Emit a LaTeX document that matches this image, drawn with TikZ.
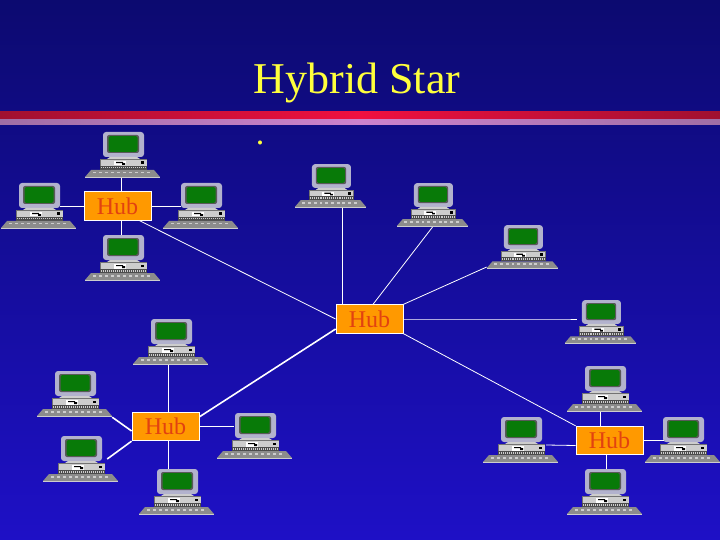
\documentclass[tikz,border=0pt]{standalone}
\usepackage{fontspec}
\setmainfont{Liberation Serif}
\definecolor{topblue}{RGB}{12,10,112}
\definecolor{botblue}{RGB}{30,16,198}
\definecolor{hubfill}{RGB}{255,153,0}
\definecolor{hubtext}{RGB}{226,66,16}
\definecolor{titleyellow}{RGB}{255,255,60}
\definecolor{monitorgray}{RGB}{178,178,205}
\definecolor{screengreen}{RGB}{8,122,8}
\definecolor{basegray}{RGB}{205,205,205}
\definecolor{barred}{RGB}{240,16,64}
\definecolor{baredge}{RGB}{160,16,48}
\definecolor{barpink}{RGB}{205,130,205}
\definecolor{barpinkedge}{RGB}{160,110,165}
\tikzset{
  computer/.pic={
    \begin{scope}[shift={(-37.5,-23)}]
    \fill[monitorgray,rounded corners=3pt] (18,0) rectangle (59,25);
    \fill[black!65,rounded corners=2pt] (22,3) rectangle (54,21);
    \fill[screengreen,rounded corners=1.5pt] (23.5,4.2) rectangle (52.5,19.8);
    \fill[basegray] (25,25) -- (52,25) -- (55,27) -- (22,27) -- cycle;
    \fill[black!55] (15,27) rectangle (62,38);
    \fill[basegray] (15.5,28) rectangle (61.5,34);
    \fill[black!70] (15,34) rectangle (62,38);
    \foreach \i in {16,18,...,60} \fill[basegray] (\i,35) rectangle (\i+1,36.5);
    \fill[white] (29,29) rectangle (41,33.5);
    \fill[black] (31,30) rectangle (38,31.2) (37,31.2) rectangle (40,33);
    \fill[black] (56,29.5) rectangle (59,32);
    \fill[black!45] (6,38) -- (69,38) -- (75,45) -- (0,45) -- cycle;
    \fill[basegray] (0,45) rectangle (75,46);
    \foreach \i in {8,14,...,62} \fill[basegray] (\i,40) rectangle (\i+3,41.5);
    \end{scope}
  },
  pc/.style={rectangle,inner sep=0pt,minimum width=#1*75pt,minimum height=#1*46pt},
  pc/.default=1,
  hub/.style={rectangle,draw=white,line width=.8pt,fill=hubfill,text=hubtext,inner sep=0pt,
    minimum width=67pt,minimum height=28.5pt,font=\fontsize{24}{24}\selectfont},
  link/.style={draw=white,line width=.8pt},
  thicklink/.style={draw=white,line width=1.6pt}
}
\begin{document}
\begin{tikzpicture}[x=1pt,y=-1pt]
\useasboundingbox (0,0) rectangle (720,540);
\shade[top color=topblue,bottom color=botblue] (0,0) rectangle (720,540);
\shade[left color=baredge,right color=baredge,middle color=barred] (0,112) rectangle (720,119);
\shade[left color=barpinkedge,right color=barpinkedge,middle color=barpink] (0,120) rectangle (720,125);
\node[text=titleyellow,font=\fontsize{44}{44}\selectfont] (title) at (357,83) {Hybrid Star};
\node[text=titleyellow,font=\fontsize{34}{34}\selectfont] (dot) at (260,143) {.};
% hubs
\node[hub] (h1) at (117.5,206) {Hub};
\node[hub] (h2) at (369.5,319) {Hub};
\node[hub] (h3) at (165.5,426.5) {Hub};
\node[hub] (h4) at (609.5,440.5) {Hub};
% computers
\foreach \name/\x/\y in {a1/122.5/155,a2/38.5/206,a3/200.5/206,a4/122.5/258,
    c1/170.5/342,c2/74.5/394,c3/80.5/459,c4/254.5/436,c5/176.5/492,
    d1/604.5/389,d2/520.5/440,d3/682.5/440,d4/604.5/492}{
  \node[pc] (\name) at (\x,\y) {};
  \pic at (\name) {computer};
}
\foreach \name/\x/\y in {b1/330.5/186,b2/432.5/205,b3/522.5/247,b4/600.5/322}{
  \node[pc=.95] (\name) at (\x,\y) {};
  \pic[scale=.95] at (\name) {computer};
}
% first hub
\draw[link] ([xshift=-1.5pt]a1.south) -- ([xshift=-1.5pt]a1.south |- h1.north);
\draw[link] ([xshift=-16pt]a2.east) -- (h1.west);
\draw[link] (h1.east) -- ([xshift=18pt]a3.west);
\draw[link] ([xshift=-1.5pt]a4.north |- h1.south) -- ([xshift=-1.5pt]a4.north);
% centre hub
\draw[link] ([xshift=22pt]h1.south) -- (h2.west);
\draw[link] ([xshift=11.5pt]b1.south) -- ([xshift=11.5pt]b1.south |- h2.north);
\draw[link] (b2.south) -- ([xshift=3.5pt]h2.north);
\draw[link] ([yshift=-20pt]b3.west) -- (h2.north east);
\draw[link] (h2.east) -- (h2.east -| b4.west) -- +(12,0);
\draw[link] (h2.south east) -- (h4.north west);
\draw[thicklink] ([yshift=-5pt]h3.north east) -- ([yshift=-10pt]h2.west);
% lower left hub
\draw[link] ([xshift=-2.5pt]c1.south) -- ([xshift=-2.5pt]c1.south |- h3.north);
\draw[thicklink] (c2.south east) -- ([yshift=-4.5pt]h3.west);
\draw[thicklink] ([xshift=-11pt]c3.east) -- (h3.south west);
\draw[link] (h3.east) -- (h3.east -| c4.west) -- +(17,0);
\draw[link] ([xshift=-8.5pt]c5.north |- h3.south) -- ([xshift=-8.5pt]c5.north);
% lower right hub
\draw[link] ([xshift=-4.5pt]d1.south) -- ([xshift=-4.5pt]d1.south |- h4.north);
\draw[link] ([xshift=-12pt,yshift=-5pt]d2.east) -- ([yshift=-5pt]h4.west);
\draw[link] (h4.east) -- (h4.east -| d3.west) -- +(19,0);
\draw[link] ([xshift=1.5pt]d4.north |- h4.south) -- ([xshift=1.5pt]d4.north);
\end{tikzpicture}
\end{document}
